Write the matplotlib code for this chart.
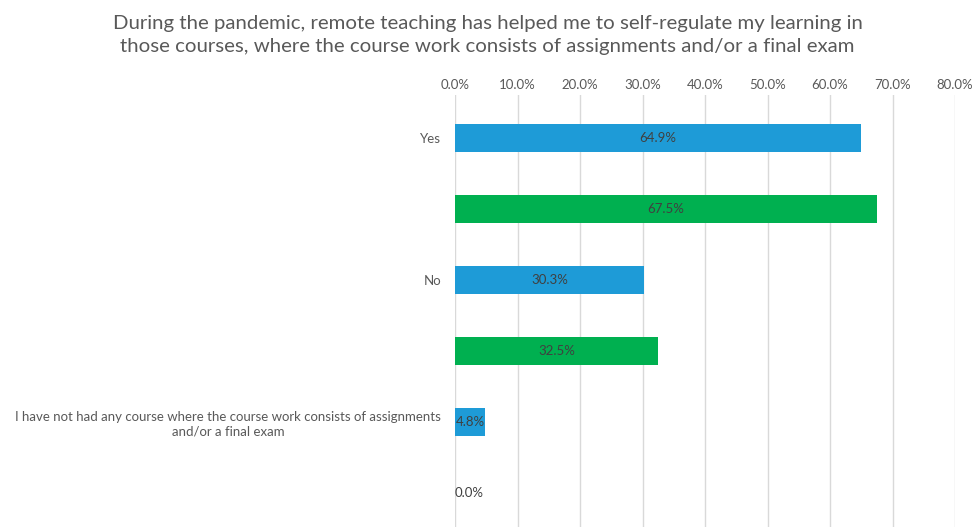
import matplotlib.pyplot as plt
import numpy as np

plt.rcParams['font.family'] = ['Lato', 'DejaVu Sans']

# data
categories = ['Yes', 'No', 'I have not had any course where the course work consists of assignments\nand/or a final exam']
series_a = [64.9, 30.3, 4.8]
series_b = [67.5, 32.5, 0.0]
xticks = [0, 10, 20, 30, 40, 50, 60, 70, 80]

blue = '#1E9BD7'
green = '#00B050'

fig = plt.figure(figsize=(9.75, 5.27), dpi=100)
ax = fig.add_axes([455 / 975, 0, 500 / 975, 1 - 95 / 527])

idx = np.arange(len(categories))
pos_a = idx * 2
pos_b = idx * 2 + 1
h = 0.39

ax.barh(pos_a, series_a, height=h, color=blue, zorder=3)
ax.barh(pos_b, series_b, height=h, color=green, zorder=3)

# data labels
for p, v in list(zip(pos_a, series_a)) + list(zip(pos_b, series_b)):
    if v > 0:
        ax.text(v / 2, p, f'{v:.1f}%', ha='center', va='center', fontsize=9.5, color='#404040', zorder=4)
    else:
        ax.text(0, p, f'{v:.1f}%', ha='left', va='center', fontsize=9.5, color='#404040', zorder=4)

ax.set_xlim(0, 80)
ax.set_ylim(5 + 34 / 71, -43 / 71)
ax.set_xticks(xticks)
ax.set_xticklabels([f'{t:.1f}%' for t in xticks])
ax.xaxis.tick_top()
ax.set_yticks(pos_a)
ax.set_yticklabels(categories, multialignment='center')
ax.tick_params(axis='both', length=0, labelsize=9.5, colors='#595959')
ax.tick_params(axis='x', pad=3)
ax.tick_params(axis='y', pad=10)
ax.grid(axis='x', color='#D9D9D9', linewidth=1, zorder=0)
for s in ax.spines.values():
    s.set_visible(False)

fig.text(0.5, 1 - 35 / 527, 'During the pandemic, remote teaching has helped me to self-regulate my learning in\nthose courses, where the course work consists of assignments and/or a final exam',
         ha='center', va='center', fontsize=14.7, color='#595959', linespacing=1.42)

fig.savefig('out.png', dpi=100)
